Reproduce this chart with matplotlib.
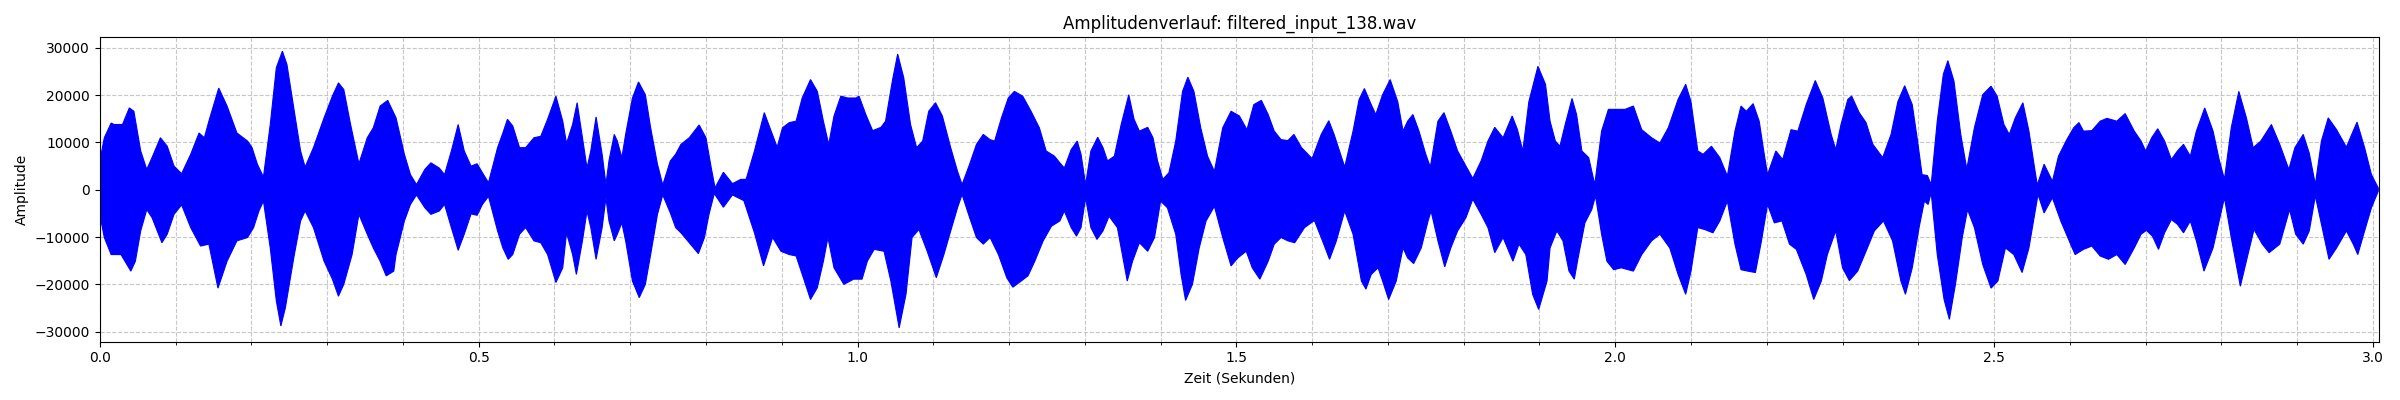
import numpy as np
import matplotlib
matplotlib.use("Agg")
import matplotlib.pyplot as plt
from matplotlib.patches import Polygon
from matplotlib.ticker import MultipleLocator

# envelope of the waveform (seconds, amplitude)
t_upper = [0.000, 0.006, 0.015, 0.019, 0.030, 0.039, 0.045, 0.054, 0.062, 0.069,
           0.080, 0.089, 0.098, 0.108, 0.120, 0.131, 0.138, 0.144, 0.157, 0.168,
           0.181, 0.195, 0.201, 0.208, 0.216, 0.225, 0.233, 0.241, 0.247, 0.256,
           0.265, 0.271, 0.282, 0.296, 0.307, 0.315, 0.322, 0.331, 0.342, 0.353,
           0.361, 0.370, 0.380, 0.391, 0.402, 0.410, 0.418, 0.429, 0.437, 0.448,
           0.455, 0.464, 0.473, 0.481, 0.490, 0.498, 0.505, 0.513, 0.525, 0.532,
           0.538, 0.545, 0.554, 0.562, 0.573, 0.582, 0.591, 0.602, 0.611, 0.616,
           0.624, 0.630, 0.637, 0.643, 0.648, 0.655, 0.663, 0.668, 0.672, 0.679,
           0.683, 0.689, 0.694, 0.703, 0.711, 0.720, 0.727, 0.736, 0.743, 0.753,
           0.760, 0.767, 0.778, 0.791, 0.800, 0.807, 0.812, 0.823, 0.835, 0.846,
           0.853, 0.864, 0.877, 0.886, 0.894, 0.901, 0.910, 0.919, 0.927, 0.938,
           0.947, 0.955, 0.962, 0.969, 0.978, 0.987, 0.998, 1.002, 1.011, 1.020,
           1.031, 1.037, 1.046, 1.053, 1.061, 1.070, 1.078, 1.086, 1.094, 1.103,
           1.112, 1.123, 1.132, 1.138, 1.148, 1.157, 1.166, 1.175, 1.181, 1.190,
           1.199, 1.207, 1.218, 1.229, 1.240, 1.249, 1.260, 1.267, 1.273, 1.282,
           1.290, 1.295, 1.301, 1.308, 1.317, 1.324, 1.330, 1.339, 1.348, 1.358,
           1.365, 1.372, 1.383, 1.390, 1.396, 1.403, 1.411, 1.420, 1.429, 1.436,
           1.444, 1.453, 1.462, 1.471, 1.482, 1.493, 1.504, 1.514, 1.523, 1.533,
           1.542, 1.550, 1.559, 1.568, 1.576, 1.586, 1.600, 1.612, 1.622, 1.629,
           1.643, 1.654, 1.662, 1.669, 1.678, 1.684, 1.693, 1.703, 1.713, 1.720,
           1.726, 1.733, 1.741, 1.750, 1.756, 1.766, 1.774, 1.783, 1.792, 1.803,
           1.812, 1.823, 1.832, 1.841, 1.852, 1.864, 1.871, 1.878, 1.886, 1.898,
           1.908, 1.914, 1.921, 1.927, 1.934, 1.943, 1.949, 1.956, 1.965, 1.973,
           1.982, 1.991, 2.002, 2.013, 2.024, 2.035, 2.048, 2.059, 2.070, 2.083,
           2.093, 2.100, 2.109, 2.116, 2.127, 2.138, 2.148, 2.158, 2.166, 2.173,
           2.182, 2.190, 2.196, 2.201, 2.212, 2.221, 2.232, 2.241, 2.252, 2.264,
           2.274, 2.285, 2.291, 2.298, 2.307, 2.312, 2.322, 2.331, 2.340, 2.353,
           2.364, 2.373, 2.382, 2.392, 2.399, 2.405, 2.412, 2.417, 2.425, 2.433,
           2.439, 2.447, 2.456, 2.464, 2.474, 2.485, 2.496, 2.504, 2.513, 2.520,
           2.528, 2.538, 2.546, 2.552, 2.557, 2.566, 2.577, 2.585, 2.596, 2.605,
           2.612, 2.618, 2.629, 2.640, 2.649, 2.662, 2.673, 2.685, 2.694, 2.700,
           2.708, 2.716, 2.725, 2.734, 2.742, 2.750, 2.759, 2.767, 2.778, 2.789,
           2.797, 2.804, 2.813, 2.823, 2.833, 2.842, 2.852, 2.866, 2.877, 2.889,
           2.897, 2.908, 2.916, 2.924, 2.932, 2.941, 2.952, 2.965, 2.972, 2.979,
           2.989, 2.998, 3.007]
a_upper = [6000, 11000, 14100, 13800, 13800, 17300, 16600, 8200, 4300, 6800,
           11000, 9200, 5000, 3400, 7500, 12000, 11000, 14500, 21500, 17700,
           12000, 10300, 8900, 5400, 2700, 13800, 25800, 29300, 26500, 17300,
           8200, 4800, 8900, 15200, 19800, 22600, 21200, 13800, 5500, 11000,
           13100, 17700, 18900, 15200, 7500, 3200, 1100, 4300, 5700, 4600,
           3200, 8200, 13800, 8200, 5000, 5500, 3600, 1500, 8900, 12000,
           14900, 13500, 8900, 8900, 11000, 11300, 14900, 19800, 14500, 9800,
           13800, 18400, 11000, 4600, 8200, 15400, 7500, 1100, 6100, 11700,
           10300, 6800, 11700, 19400, 22800, 20100, 13100, 5400, 1000, 6100,
           7500, 9600, 11000, 13700, 11000, 4600, 400, 3700, 1300, 2200,
           2200, 8200, 16300, 12400, 9000, 13100, 14200, 14500, 19400, 23300,
           20800, 14500, 9600, 15600, 19800, 19400, 19400, 19800, 15900, 12500,
           13200, 14500, 23000, 28700, 23700, 13800, 8900, 10300, 16600, 18400,
           15600, 8900, 3900, 1100, 5400, 9600, 11700, 10600, 10300, 15200,
           19400, 20800, 19800, 16600, 13100, 8200, 7100, 5700, 4600, 8500,
           10300, 7500, 1100, 8200, 11100, 8900, 6100, 7100, 13800, 20100,
           14900, 12400, 13200, 11000, 6100, 2200, 3600, 10300, 20800, 23800,
           20800, 13100, 7100, 3900, 13100, 16600, 15600, 12700, 18000, 18900,
           15900, 12400, 10600, 10400, 11700, 8900, 6600, 11700, 14600, 11700,
           4800, 12400, 19100, 21400, 18000, 15900, 20100, 23300, 18600, 12400,
           14500, 15900, 12400, 7500, 4800, 14500, 16300, 12400, 8200, 5000,
           2400, 6100, 10300, 13200, 11000, 15600, 12700, 8200, 18600, 26100,
           22300, 14500, 10300, 9200, 13800, 19300, 15900, 8200, 6800, 1100,
           12400, 17000, 17000, 17000, 17700, 12700, 11000, 9900, 13100, 19100,
           22300, 18600, 8200, 7500, 9200, 6800, 2900, 12400, 17700, 16600,
           18200, 14500, 8200, 3200, 8200, 6400, 12700, 12400, 18000, 23100,
           19400, 11700, 8500, 13800, 19100, 19800, 16300, 14200, 9600, 6800,
           11700, 18600, 22000, 18000, 10300, 3200, 3000, 1100, 14500, 24400,
           27300, 23000, 11700, 4400, 13100, 20100, 21900, 19800, 13800, 11700,
           15200, 18400, 12400, 6100, 1000, 5400, 1800, 7100, 10600, 13100,
           14200, 12400, 12500, 14500, 15100, 14500, 16100, 12400, 10300, 8200,
           11000, 12900, 10300, 6400, 8200, 9600, 7100, 12400, 17300, 12400,
           6400, 2200, 13100, 20800, 15200, 8900, 10300, 13800, 9600, 4300,
           8900, 11700, 7700, 1100, 10300, 15200, 12700, 9000, 11700, 14300,
           8900, 3200, 400]

t_lower = [0.000, 0.006, 0.015, 0.028, 0.041, 0.047, 0.054, 0.062, 0.069, 0.082,
           0.089, 0.098, 0.108, 0.120, 0.133, 0.144, 0.156, 0.168, 0.181, 0.195,
           0.203, 0.210, 0.216, 0.225, 0.233, 0.239, 0.245, 0.256, 0.265, 0.271,
           0.282, 0.296, 0.307, 0.315, 0.322, 0.333, 0.342, 0.353, 0.361, 0.370,
           0.378, 0.388, 0.391, 0.402, 0.410, 0.418, 0.429, 0.437, 0.448, 0.455,
           0.464, 0.473, 0.481, 0.490, 0.498, 0.505, 0.513, 0.525, 0.532, 0.539,
           0.545, 0.554, 0.562, 0.573, 0.582, 0.591, 0.602, 0.611, 0.616, 0.624,
           0.629, 0.637, 0.643, 0.648, 0.655, 0.663, 0.668, 0.672, 0.679, 0.683,
           0.689, 0.694, 0.703, 0.712, 0.720, 0.727, 0.736, 0.743, 0.753, 0.760,
           0.767, 0.778, 0.790, 0.798, 0.804, 0.811, 0.823, 0.835, 0.850, 0.864,
           0.876, 0.888, 0.899, 0.910, 0.919, 0.930, 0.938, 0.947, 0.955, 0.961,
           0.969, 0.982, 0.995, 1.006, 1.013, 1.022, 1.035, 1.044, 1.055, 1.064,
           1.072, 1.081, 1.092, 1.104, 1.114, 1.123, 1.132, 1.138, 1.148, 1.157,
           1.166, 1.175, 1.186, 1.197, 1.205, 1.216, 1.225, 1.234, 1.245, 1.256,
           1.267, 1.273, 1.282, 1.289, 1.295, 1.301, 1.308, 1.316, 1.324, 1.332,
           1.343, 1.356, 1.363, 1.372, 1.383, 1.392, 1.400, 1.409, 1.420, 1.427,
           1.433, 1.442, 1.451, 1.460, 1.471, 1.482, 1.493, 1.502, 1.513, 1.521,
           1.531, 1.542, 1.550, 1.559, 1.568, 1.577, 1.590, 1.603, 1.612, 1.623,
           1.632, 1.643, 1.654, 1.665, 1.671, 1.678, 1.687, 1.693, 1.701, 1.711,
           1.720, 1.726, 1.734, 1.744, 1.753, 1.757, 1.766, 1.775, 1.783, 1.792,
           1.803, 1.812, 1.823, 1.832, 1.841, 1.852, 1.865, 1.873, 1.882, 1.891,
           1.899, 1.910, 1.914, 1.923, 1.931, 1.939, 1.946, 1.951, 1.960, 1.969,
           1.974, 1.982, 1.989, 1.998, 2.008, 2.024, 2.035, 2.048, 2.059, 2.072,
           2.083, 2.093, 2.100, 2.109, 2.118, 2.129, 2.138, 2.148, 2.158, 2.166,
           2.175, 2.185, 2.193, 2.201, 2.210, 2.220, 2.230, 2.239, 2.252, 2.262,
           2.272, 2.280, 2.291, 2.300, 2.309, 2.320, 2.331, 2.342, 2.354, 2.366,
           2.377, 2.383, 2.392, 2.401, 2.408, 2.413, 2.417, 2.425, 2.434, 2.441,
           2.449, 2.458, 2.465, 2.474, 2.485, 2.496, 2.505, 2.515, 2.526, 2.537,
           2.546, 2.552, 2.558, 2.566, 2.577, 2.588, 2.601, 2.607, 2.618, 2.629,
           2.640, 2.651, 2.662, 2.673, 2.685, 2.694, 2.701, 2.709, 2.717, 2.725,
           2.734, 2.742, 2.750, 2.759, 2.767, 2.777, 2.789, 2.797, 2.804, 2.813,
           2.825, 2.835, 2.843, 2.854, 2.863, 2.877, 2.890, 2.898, 2.908, 2.916,
           2.924, 2.933, 2.942, 2.952, 2.965, 2.974, 2.980, 2.989, 2.998, 3.007]
a_lower = [-5200, -10100, -13700, -13700, -17200, -15100, -8700, -4200, -5900, -11200,
           -9400, -5200, -3200, -8000, -11900, -11500, -20800, -15100, -10800, -10100,
           -8000, -4500, -2400, -12300, -23500, -28800, -24900, -14400, -6600, -4500,
           -8000, -15100, -18900, -22500, -20000, -13700, -5200, -9400, -12300, -15100,
           -18200, -17200, -13700, -6600, -3100, -1100, -3800, -5200, -4500, -3100,
           -8000, -12800, -9400, -5100, -5400, -3100, -1400, -8700, -12300, -14700,
           -13700, -9400, -8000, -10800, -11200, -13700, -19600, -16500, -9100, -13700,
           -17900, -10800, -4500, -8000, -14700, -8000, -1700, -6600, -10800, -9400,
           -7000, -10800, -19300, -22800, -20000, -13700, -5200, -1100, -4900, -8000,
           -9100, -11200, -13500, -10100, -5200, -800, -3700, -1100, -2300, -9100,
           -16100, -10100, -13000, -13700, -14000, -19300, -23200, -20700, -15100, -10100,
           -16500, -20000, -18900, -18900, -15100, -12600, -13000, -19300, -29200, -22100,
           -10100, -8400, -13000, -18600, -13700, -8700, -3800, -1000, -5900, -10100,
           -11500, -10100, -13700, -18600, -20600, -19300, -18200, -15100, -10800, -7700,
           -6600, -4500, -8000, -9800, -8000, -1700, -8000, -10500, -8700, -5600,
           -8000, -19300, -15100, -11200, -13000, -10100, -2400, -3800, -9400, -17900,
           -23400, -20000, -12300, -6600, -3500, -10100, -16100, -14400, -13000, -16500,
           -18900, -15100, -11500, -10100, -10800, -11200, -8000, -6500, -10100, -14700,
           -10800, -4500, -9400, -19300, -21000, -17900, -16500, -19300, -23200, -19300,
           -12300, -14400, -15600, -12300, -6600, -4500, -10800, -16300, -12300, -8700,
           -5900, -2000, -5200, -8000, -13300, -10100, -15100, -11500, -13700, -22100,
           -25300, -19300, -12300, -8700, -10800, -17200, -18900, -14400, -7000, -4200,
           -1300, -9400, -15100, -16900, -16500, -17200, -13700, -10800, -9400, -12300,
           -17900, -22100, -17200, -8000, -8400, -9100, -6600, -2400, -11500, -16900,
           -17200, -17500, -10800, -3100, -7000, -6600, -11500, -12600, -17900, -23200,
           -19300, -13700, -8700, -16500, -19200, -17200, -13000, -8700, -6600, -10800,
           -19300, -22100, -16500, -8000, -2400, -3100, -600, -13700, -23200, -27400,
           -20000, -10100, -4200, -8000, -15800, -20800, -19300, -12300, -13700, -17500,
           -12300, -6600, -1000, -4900, -1700, -6600, -11500, -13700, -12600, -11900,
           -14000, -14700, -13700, -15800, -12300, -9400, -8600, -9800, -12600, -9100,
           -6300, -7300, -9100, -6600, -10800, -17200, -12300, -6600, -1700, -10100,
           -20400, -13700, -8400, -11500, -13300, -11500, -4200, -9400, -11500, -8700,
           -1300, -8000, -14700, -12300, -8700, -11500, -13700, -8700, -3800, -300]

duration = 3.008

fig = plt.figure(figsize=(24, 4), dpi=100)
ax = fig.add_subplot(111)

# waveform drawn as the area between upper and lower envelope
poly_t = np.concatenate([np.asarray(t_upper), np.asarray(t_lower)[::-1]])
poly_a = np.concatenate([np.asarray(a_upper, float), np.asarray(a_lower, float)[::-1]])
wave = Polygon(np.column_stack([poly_t, poly_a]), closed=True,
               facecolor='#0000ff', edgecolor='#0000ff', linewidth=0.8, zorder=2)
ax.add_patch(wave)
ax.autoscale_view()

ax.set_title("Amplitudenverlauf: filtered_input_138.wav")
ax.set_xlabel("Zeit (Sekunden)")
ax.set_ylabel("Amplitude")
ax.set_xlim(0, duration)
ax.xaxis.set_minor_locator(MultipleLocator(0.1))
ax.grid(True, which='both', linestyle='--', alpha=0.7)

plt.tight_layout()
plt.savefig("out.png", dpi=100)
